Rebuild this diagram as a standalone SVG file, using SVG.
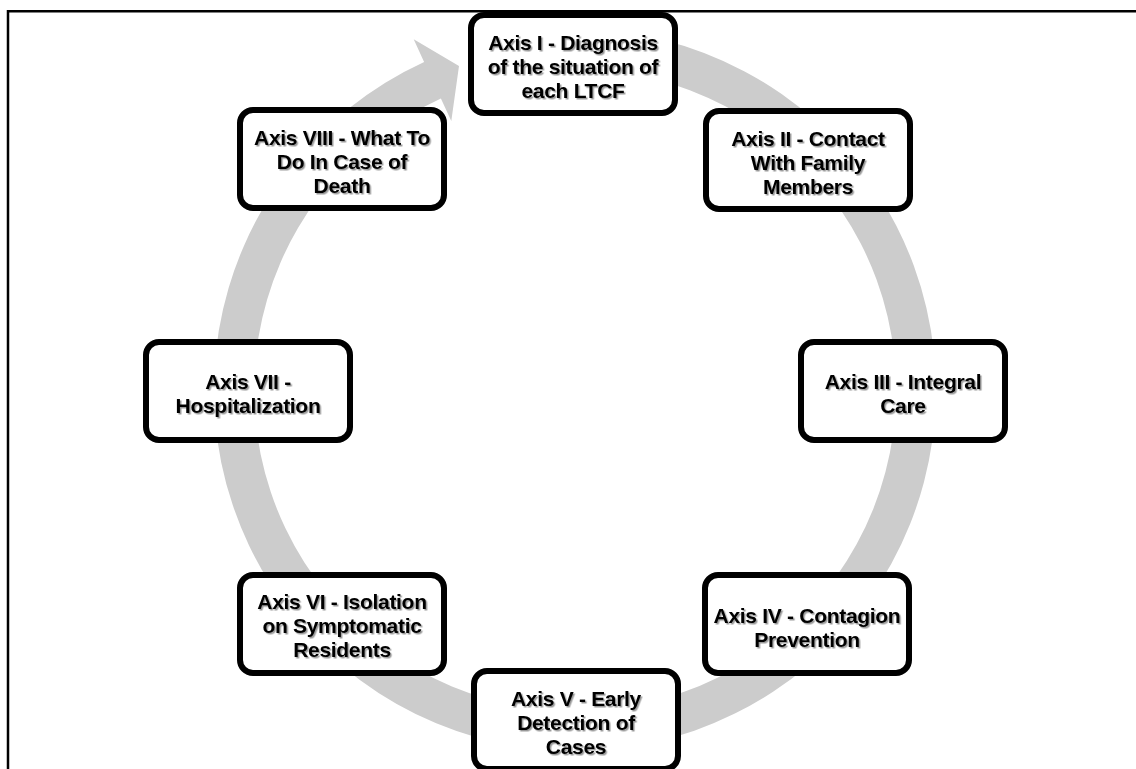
<svg xmlns="http://www.w3.org/2000/svg" width="1136" height="769" viewBox="0 0 1136 769">
  <style>
    .box { fill: #ffffff; stroke: #000000; stroke-width: 6; }
    .label { font-family: "Liberation Sans", Arial, sans-serif; font-weight: bold; font-size: 21px; fill: #000000; text-anchor: middle; letter-spacing: -0.3px; filter: url(#txtShadow); }
    .frame { fill: none; stroke: #000000; stroke-width: 2.5; }
    .ring { fill: #cccccc; stroke: none; }
  </style>
  <defs>
    <filter id="txtShadow" x="-10%" y="-30%" width="120%" height="160%">
      <feDropShadow dx="1.5" dy="1.5" stdDeviation="0.7" flood-color="#000000" flood-opacity="0.4"/>
    </filter>
  </defs>

  <rect width="1136" height="769" fill="#ffffff"/>
  <path class="frame" d="M8,769 V11.3 H1136"/>

  <!-- circular flow arrow -->
  <g id="connectors">
    <path class="ring" d="M575,29 A361,361 0 1 1 424.1,62 L413.7,39.3 L459,66 L451.3,121.1 L440.9,98.4 A321,321 0 1 0 575,69 Z"/>
  </g>

  <g id="axis1">
    <rect class="box" x="471" y="15" width="204" height="98" rx="13"/>
    <text class="label" x="573" y="50"><tspan x="573">Axis I - Diagnosis</tspan><tspan x="573" dy="24">of the situation of</tspan><tspan x="573" dy="24">each LTCF</tspan></text>
  </g>

  <g id="axis2">
    <rect class="box" x="706" y="111" width="204" height="98" rx="13"/>
    <text class="label" x="808" y="146"><tspan x="808">Axis II - Contact</tspan><tspan x="808" dy="24">With Family</tspan><tspan x="808" dy="24">Members</tspan></text>
  </g>

  <g id="axis3">
    <rect class="box" x="801" y="342" width="204" height="98" rx="13"/>
    <text class="label" x="903" y="389"><tspan x="903">Axis III - Integral</tspan><tspan x="903" dy="24">Care</tspan></text>
  </g>

  <g id="axis4">
    <rect class="box" x="705" y="575" width="204" height="98" rx="13"/>
    <text class="label" x="807" y="623"><tspan x="807">Axis IV - Contagion</tspan><tspan x="807" dy="24">Prevention</tspan></text>
  </g>

  <g id="axis5">
    <rect class="box" x="474" y="671" width="204" height="98" rx="13"/>
    <text class="label" x="576" y="706"><tspan x="576">Axis V - Early</tspan><tspan x="576" dy="24">Detection of</tspan><tspan x="576" dy="24">Cases</tspan></text>
  </g>

  <g id="axis6">
    <rect class="box" x="240" y="575" width="204" height="98" rx="13"/>
    <text class="label" x="342" y="609"><tspan x="342">Axis VI - Isolation</tspan><tspan x="342" dy="24">on Symptomatic</tspan><tspan x="342" dy="24">Residents</tspan></text>
  </g>

  <g id="axis7">
    <rect class="box" x="146" y="342" width="204" height="98" rx="13"/>
    <text class="label" x="248" y="389"><tspan x="248">Axis VII -</tspan><tspan x="248" dy="24">Hospitalization</tspan></text>
  </g>

  <g id="axis8">
    <rect class="box" x="240" y="110" width="204" height="98" rx="13"/>
    <text class="label" x="342" y="145"><tspan x="342">Axis VIII - What To</tspan><tspan x="342" dy="24">Do In Case of</tspan><tspan x="342" dy="24">Death</tspan></text>
  </g>
</svg>
